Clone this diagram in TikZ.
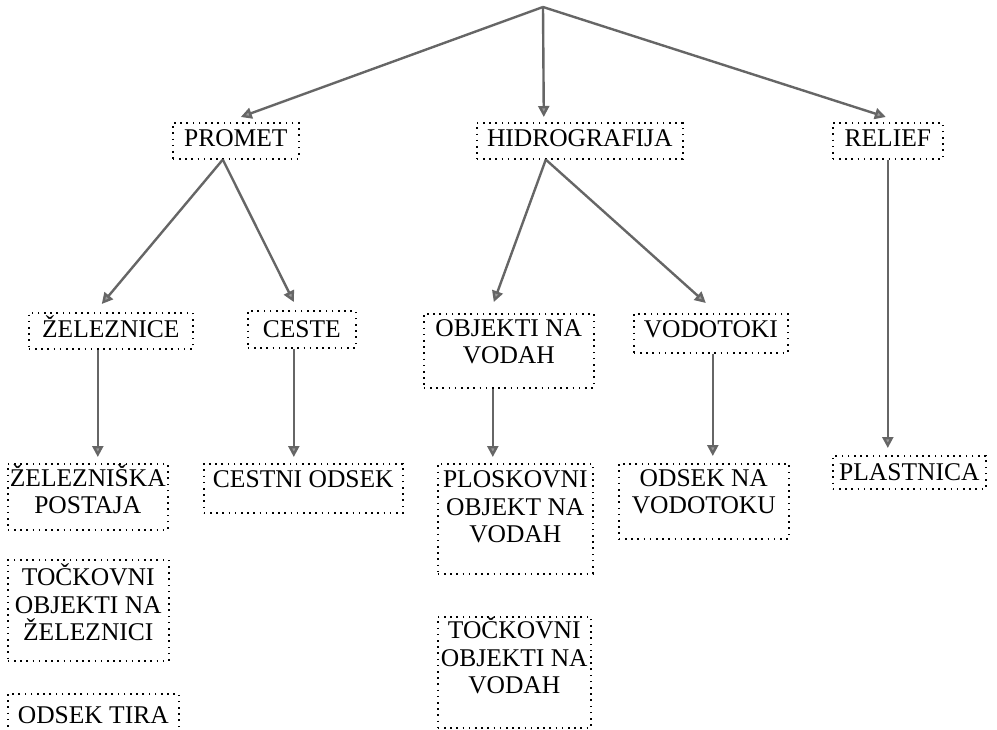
\documentclass[tikz,border=0pt]{standalone}
\usepackage{fontspec}
\setmainfont{Liberation Serif}
\usepackage{tikz}
\usetikzlibrary{arrows.meta}
\newcommand{\klasfont}{\fontsize{25.5}{27.5}\selectfont}
\tikzset{
  klass/.style={draw=black, line width=1.6pt, dash pattern=on 1.6pt off 4.6pt,
    anchor=north west, inner sep=0pt, align=center, font=\klasfont},
  pil/.style={draw=black!60, line width=2.4pt,
    -{Triangle[width=11pt, length=11pt, fill=black!40]}}
}
\begin{document}
\begin{tikzpicture}[x=1pt, y=-1pt]
  \useasboundingbox (0,0) rectangle (997,730);
  \coordinate (root) at (543,7);
  % first level
  \node[klass, minimum width=126pt, text height=24pt, text depth=12pt] (promet) at (172,122) {PROMET};
  \node[klass, minimum width=206pt, text height=24pt, text depth=12pt] (hidro) at (476,122) {HIDROGRAFIJA};
  \node[klass, minimum width=110pt, text height=24pt, text depth=12pt] (relief) at (832,122) {RELIEF};
  % second level
  \node[klass, minimum width=164pt, text height=25pt, text depth=11pt] (zeleznice) at (28,312) {ŽELEZNICE};
  \node[klass, minimum width=108pt, text height=27pt, text depth=10pt] (ceste) at (247,310) {CESTE};
  \node[klass, minimum width=170pt, text height=50pt, text depth=24pt] (objekti) at (423,313) {OBJEKTI NA\\VODAH};
  \node[klass, minimum width=154pt, text height=24pt, text depth=15pt] (vodotoki) at (633,313) {VODOTOKI};
  % third level
  \node[klass, minimum width=160pt, text height=50pt, text depth=16pt] (postaja) at (7,463) {ŽELEZNIŠKA\\POSTAJA};
  \node[klass, minimum width=161pt, text height=81pt, text depth=20pt] (tockzel) at (7,559) {TOČKOVNI\\OBJEKTI NA\\ŽELEZNICI};
  \node[klass, minimum width=171pt, text height=30pt, text depth=37pt] (tira) at (7,693) {ODSEK TIRA};
  \node[klass, minimum width=199pt, text height=24pt, text depth=25pt] (cestni) at (203,463) {CESTNI ODSEK};
  \node[klass, minimum width=155pt, text height=79pt, text depth=31pt] (ploskovni) at (437,463) {PLOSKOVNI\\OBJEKT NA\\VODAH};
  \node[klass, minimum width=153pt, text height=77pt, text depth=34pt] (tockvod) at (437,616) {TOČKOVNI\\OBJEKTI NA\\VODAH};
  \node[klass, minimum width=170pt, text height=50pt, text depth=25pt] (odsekvod) at (618,463) {ODSEK NA\\VODOTOKU};
  \node[klass, minimum width=153pt, text height=25pt, text depth=8pt] (plastnica) at (832,455) {PLASTNICA};
  % arrows
  \draw[pil] (root) -- ([xshift=5pt, yshift=5pt]promet.north);
  \draw[pil] (root) -- ([xshift=-36pt, yshift=5pt]hidro.north);
  \draw[pil] (root) -- ([xshift=-2pt, yshift=5pt]relief.north);
  \draw[pil] ([xshift=-13pt]promet.south) -- ([xshift=-9pt, yshift=8pt]zeleznice.north);
  \draw[pil] ([xshift=-13pt]promet.south) -- ([xshift=-8pt, yshift=8pt]ceste.north);
  \draw[pil] ([xshift=-34pt]hidro.south) -- ([xshift=-15pt, yshift=11pt]objekti.north);
  \draw[pil] ([xshift=-34pt]hidro.south) -- ([xshift=-5pt, yshift=10pt]vodotoki.north);
  \draw[pil] ([xshift=-13pt]zeleznice.south) -- ([xshift=10pt, yshift=6pt]postaja.north);
  \draw[pil] ([xshift=-8pt]ceste.south) -- ([xshift=-9.5pt, yshift=6pt]cestni.north);
  \draw[pil] ([xshift=-16pt]objekti.south) -- ([xshift=-22.5pt, yshift=6pt]ploskovni.north);
  \draw[pil] ([xshift=2pt]vodotoki.south) -- ([xshift=9pt, yshift=7pt]odsekvod.north);
  \draw[pil] (relief.south) -- ([xshift=-21.5pt, yshift=7pt]plastnica.north);
\end{tikzpicture}
\end{document}
